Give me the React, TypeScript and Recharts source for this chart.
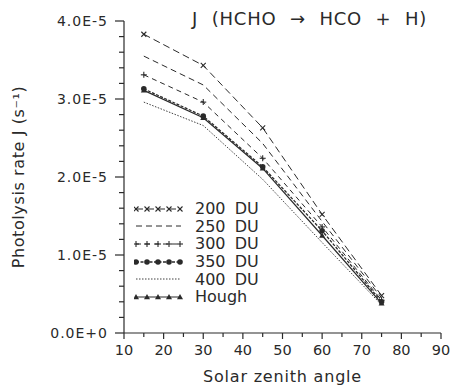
import { Line, LineChart, XAxis, YAxis } from "recharts";

const angles = [15, 30, 45, 60, 75];
const du200 = [3.83e-5, 3.43e-5, 2.63e-5, 1.52e-5, 0.48e-5];
const du250 = [3.55e-5, 3.18e-5, 2.43e-5, 1.43e-5, 0.45e-5];
const du300 = [3.31e-5, 2.96e-5, 2.24e-5, 1.36e-5, 0.42e-5];
const du350 = [3.13e-5, 2.78e-5, 2.13e-5, 1.31e-5, 0.4e-5];
const du400 = [2.96e-5, 2.66e-5, 1.97e-5, 1.16e-5, 0.36e-5];
const hough = [3.11e-5, 2.76e-5, 2.11e-5, 1.25e-5, 0.38e-5];

const xTicks = [10, 15, 20, 25, 30, 35, 40, 45, 50, 55, 60, 65, 70, 75, 80, 85, 90];
const yTicks = Array.from({ length: 21 }, (_, i) => i * 2e-6);

const data = angles.map((a, i) => ({
  a,
  d200: du200[i],
  d250: du250[i],
  d300: du300[i],
  d350: du350[i],
  d400: du400[i],
  hough: hough[i]
}));

const INK = "#2a2a2a";
const FONT = "'DejaVu Sans', sans-serif";

type Marker = "cross" | "plus" | "dot" | "tri" | "none";

const drawMarker = (kind: Marker, cx: number, cy: number, key?: string) => {
  if (kind === "cross")
    return (
      <g key={key} stroke={INK} strokeWidth={1.1}>
        <line x1={cx - 2.5} y1={cy - 2.5} x2={cx + 2.5} y2={cy + 2.5} />
        <line x1={cx - 2.5} y1={cy + 2.5} x2={cx + 2.5} y2={cy - 2.5} />
      </g>
    );
  if (kind === "plus")
    return (
      <g key={key} stroke={INK} strokeWidth={1.1}>
        <line x1={cx - 3} y1={cy} x2={cx + 3} y2={cy} />
        <line x1={cx} y1={cy - 3} x2={cx} y2={cy + 3} />
      </g>
    );
  if (kind === "dot") return <circle key={key} cx={cx} cy={cy} r={2.8} fill={INK} />;
  if (kind === "tri")
    return (
      <polygon
        key={key}
        points={`${cx},${cy - 3} ${cx - 3},${cy + 2.2} ${cx + 3},${cy + 2.2}`}
        fill={INK}
      />
    );
  return <g key={key} />;
};

const series = [
  { key: "d200", name: "200 DU", dash: "7 4", width: 1, marker: "cross" as Marker },
  { key: "d250", name: "250 DU", dash: "6 4", width: 1, marker: "none" as Marker },
  { key: "d300", name: "300 DU", dash: "5 4", width: 1, marker: "plus" as Marker },
  { key: "d350", name: "350 DU", dash: "3 1.5", width: 1.3, marker: "dot" as Marker },
  { key: "d400", name: "400 DU", dash: "1.5 1.5", width: 0.9, marker: "none" as Marker },
  { key: "hough", name: "Hough", dash: undefined, width: 1.2, marker: "tri" as Marker }
];

const XTick = ({ x, y, payload }: any) => {
  const major = payload.value % 10 === 0;
  return (
    <g>
      <line x1={x} y1={y} x2={x} y2={y + (major ? 6 : 4)} stroke={INK} strokeWidth={1.2} />
      {major && (
        <text x={x} y={y + 22} textAnchor="middle" fontSize={14.5} fill={INK} fontFamily={FONT}>
          {payload.value}
        </text>
      )}
    </g>
  );
};

const YTick = ({ x, y, payload }: any) => {
  const major = Math.round(payload.value * 1e6) % 10 === 0;
  return (
    <g>
      <line x1={x} y1={y} x2={x - (major ? 9 : 5)} y2={y} stroke={INK} strokeWidth={1.2} />
      {major && (
        <text
          x={x - 16}
          y={y + 5}
          textAnchor="end"
          fontSize={14}
          letterSpacing={1}
          fill={INK}
          fontFamily={FONT}
        >
          {payload.value.toExponential(1).toUpperCase()}
        </text>
      )}
    </g>
  );
};

const LegendBox = () => (
  <div
    style={{
      position: "absolute",
      left: 134,
      top: 200,
      fontFamily: FONT,
      color: INK
    }}
  >
    {series.map((s) => (
      <div key={s.key} style={{ display: "flex", alignItems: "center", height: 17.6 }}>
        <svg width={50} height={12}>
          <line
            x1={2}
            y1={6}
            x2={47}
            y2={6}
            stroke={INK}
            strokeWidth={s.width}
            strokeDasharray={s.dash}
          />
          {s.marker !== "none" &&
            [2, 13, 24, 35, 46].map((mx) => drawMarker(s.marker, mx, 6, `${s.key}${mx}`))}
        </svg>
        <span
          style={{
            marginLeft: 11,
            fontSize: 16,
            lineHeight: "17px",
            whiteSpace: "nowrap",
            wordSpacing: 4
          }}
        >
          {s.name}
        </span>
      </div>
    ))}
  </div>
);

export default function App() {
  return (
    <div style={{ position: "absolute", left: 0, top: 0, width: 450, height: 388, background: "#fff" }}>
      <LineChart
        width={450}
        height={388}
        data={data}
        margin={{ top: 21, right: 9, bottom: 0, left: 0 }}
      >
        <XAxis
          dataKey="a"
          type="number"
          domain={[10, 90]}
          ticks={xTicks}
          interval={0}
          tickSize={0}
          tickMargin={0}
          tick={<XTick />}
          height={55}
          stroke={INK}
          strokeWidth={1.2}
          label={{
            value: "Solar zenith angle",
            position: "insideBottom",
            offset: 6,
            fontSize: 16,
            fill: INK,
            fontFamily: FONT,
            letterSpacing: 0.8
          }}
        />
        <YAxis
          type="number"
          domain={[0, 4e-5]}
          ticks={yTicks}
          interval={0}
          tickSize={0}
          tickMargin={0}
          tick={<YTick />}
          width={124}
          stroke={INK}
          strokeWidth={1.2}
          label={{
            value: "Photolysis rate J (s⁻¹)",
            angle: -90,
            position: "insideLeft",
            offset: 18,
            fontSize: 16,
            fill: INK,
            fontFamily: FONT,
            letterSpacing: 0.6,
            style: { textAnchor: "middle" }
          }}
        />
        {series.map((s) => (
          <Line
            key={s.key}
            dataKey={s.key}
            name={s.name}
            type="linear"
            stroke={INK}
            strokeWidth={s.width}
            strokeDasharray={s.dash}
            isAnimationActive={false}
            dot={(p: any) => drawMarker(s.marker, p.cx, p.cy, `${s.key}-${p.index}`)}
            activeDot={false}
          />
        ))}
      </LineChart>
      <div
        style={{
          position: "absolute",
          left: 192,
          top: 8,
          fontFamily: FONT,
          fontSize: 18,
          color: INK,
          whiteSpace: "nowrap",
          letterSpacing: 0.8,
          wordSpacing: 7
        }}
      >
        J (HCHO → HCO + H)
      </div>
      <LegendBox />
    </div>
  );
}
